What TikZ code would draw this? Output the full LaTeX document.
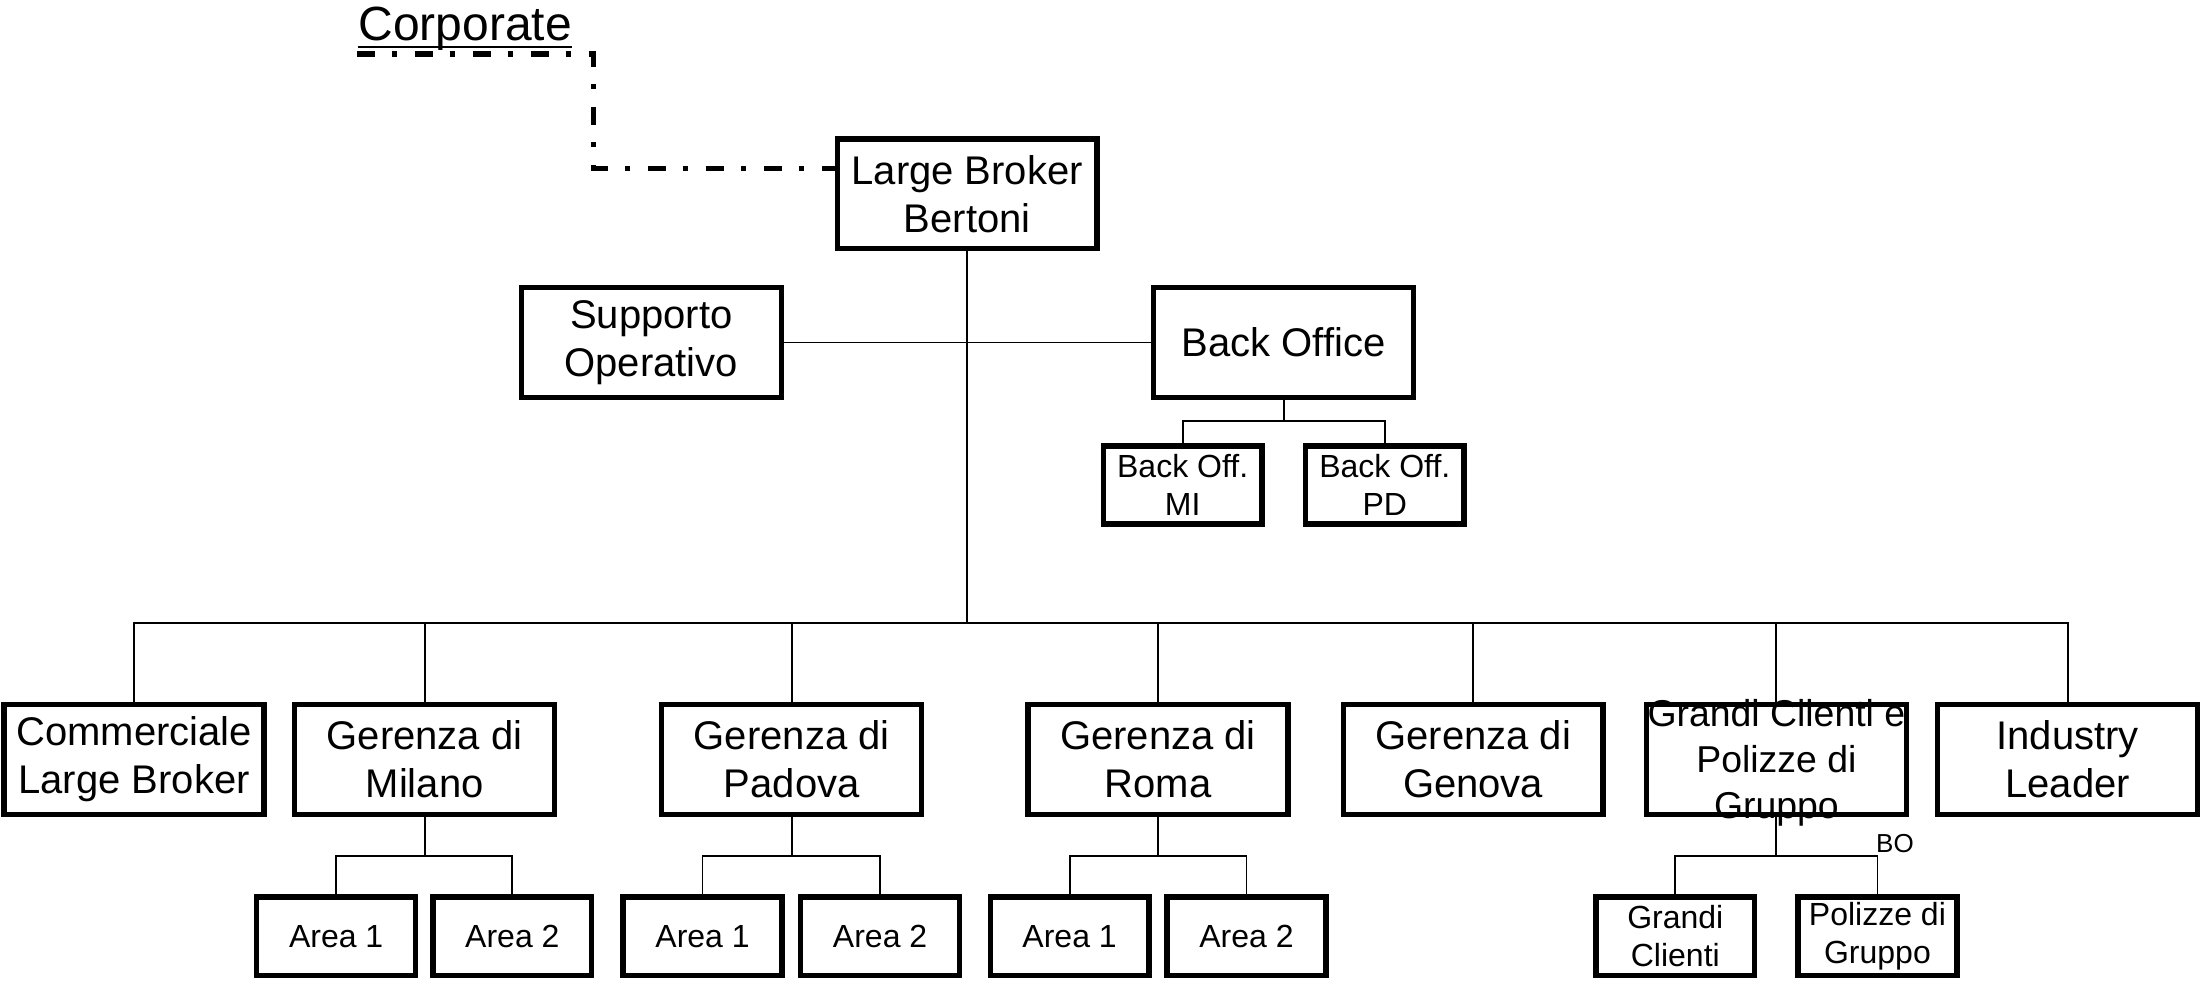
\documentclass[tikz,border=0pt]{standalone}
\usepackage{fontspec}
\setmainfont{Liberation Sans}
\usetikzlibrary{calc}

\tikzset{
  unit/.style={draw, line width=2.7pt, minimum width=129.9pt, minimum height=54.8pt, inner sep=0pt, align=center, font=\fontsize{20}{24}\selectfont},
  subunit/.style={unit, minimum width=79.4pt, minimum height=39.1pt, font=\fontsize{16}{19}\selectfont},
  link/.style={line width=0.9pt},
  corpline/.style={line width=2.6pt, dash pattern=on 9pt off 8.5pt on 2.5pt off 9pt}
}

\begin{document}
\begin{tikzpicture}[x=0.7018pt,y=-0.7018pt]
\useasboundingbox (0,0) rectangle (1568,702);

% Text Node
\node[anchor=base west, inner sep=0pt, font=\fontsize{24}{28}\selectfont] (corp) at (255,29) {Corporate};
\draw[line width=1pt] ([yshift=-3pt]corp.base west) -- ([yshift=-3pt]corp.base east);

%Top and staff
\node[unit] (lb) at (689,138) {Large Broker\\Bertoni};
\node[unit] (sup) at (464,244) {Supporto\\Operativo};
\node[unit] (bo) at (914.5,244) {Back Office};
\node[subunit] (bomi) at (842.5,345.5) {Back Off.\\MI};
\node[subunit] (bopd) at (986.5,345.5) {Back Off.\\PD};

%Second level
\node[unit] (cl) at (95.5,541) {Commerciale\\Large Broker};
\node[unit] (gm) at (302.5,541) {Gerenza di\\Milano};
\node[unit] (gp) at (564,541) {Gerenza di\\Padova};
\node[unit] (gr) at (825,541) {Gerenza di\\Roma};
\node[unit] (gg) at (1049.5,541) {Gerenza di\\Genova};
\node[unit] (gc) at (1265.5,541) {};
\node[inner sep=0pt, align=center, font=\fontsize{18.7}{22.8}\selectfont] (gctext) at (1265.5,543.5) {Grandi Clienti e\\Polizze di\\Gruppo};
\node[unit] (il) at (1473,541) {Industry\\Leader};

%Third level
\node[subunit] (gma) at (239.5,667) {Area 1};
\node[subunit] (gmb) at (365,667) {Area 2};
\node[subunit] (gpa) at (500.5,667) {Area 1};
\node[subunit] (gpb) at (627,667) {Area 2};
\node[subunit] (gra) at (762,667) {Area 1};
\node[subunit] (grb) at (888,667) {Area 2};
\node[subunit] (gcc) at (1193.5,667) {Grandi\\Clienti};
\node[subunit] (gcp) at (1337.5,667) {Polizze di\\Gruppo};

% Text Node
\node[inner sep=0pt, font=\fontsize{13}{15}\selectfont] (bolabel) at (1350,601) {BO};

%Corporate link
\coordinate (corpstart) at (254,38.5);
\coordinate (kink) at (423,120);
\draw[corpline] (corpstart) -| (kink) -- (kink -| lb.west);

%Main bus
\coordinate (bus) at (689,444);
\draw[link] (lb.south) -- (bus);
\foreach \n in {cl,gm,gp,gr,gg,gc,il} \draw[link] (\n.north) |- (bus);

%Staff
\draw[link] (sup.east) -- (bo.west);
\draw[link] (bo.south) -- ++(0,15) -| (bomi.north);
\draw[link] (bo.south) ++(0,15) -| (bopd.north);

%Areas
\foreach \p/\a/\b in {gm/gma/gmb, gp/gpa/gpb, gr/gra/grb, gc/gcc/gcp} {
  \draw[link] (\p.south) -- ++(0,28) -| (\a.north);
  \draw[link] (\p.south) ++(0,28) -| (\b.north);
}

\end{tikzpicture}
\end{document}
